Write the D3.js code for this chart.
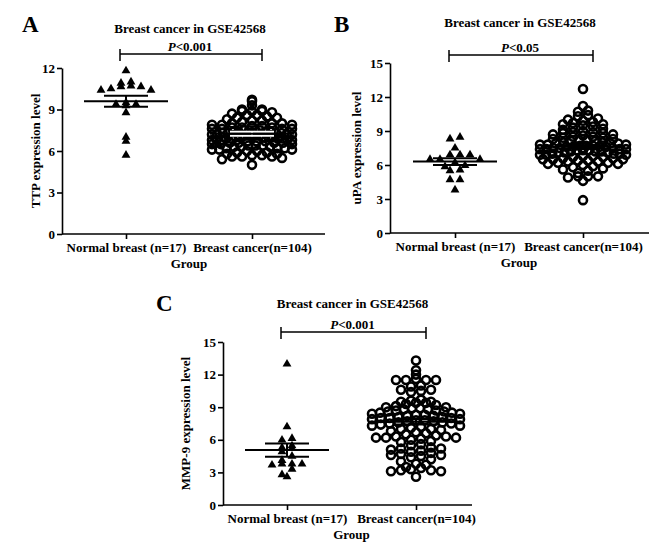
<!DOCTYPE html>
<html>
<head>
<meta charset="utf-8">
<script src="https://cdn.jsdelivr.net/npm/d3@7"></script>
<style>
body { margin: 0; background: #fff; }
svg text { font-family: "Times New Roman", "Liberation Serif", serif; font-weight: bold; font-size: 13px; fill: #000; }
</style>
</head>
<body>
<svg id="fig" width="669" height="547"></svg>
<script>
// categories
var groups = ["Normal breast (n=17)", "Breast cancer(n=104)"];

// panel A - TTP
var normalA = [11.8, 11.0, 10.9, 10.7, 10.65, 10.65, 10.5, 10.4, 10.4, 9.5, 9.38, 9.38, 9.28, 8.77, 7.0, 6.7, 5.7];
var cancerA = [9.7, 9.6, 9.3, 9.0, 9.0, 8.9, 8.9, 8.9, 8.8, 8.7, 8.6, 8.6, 8.5, 8.4, 8.4, 8.3, 8.2, 8.2, 8.1,
  8.0, 8.0, 8.0, 7.9, 7.9, 7.9, 7.8, 7.8, 7.7, 7.7, 7.7, 7.6, 7.6, 7.6, 7.6, 7.5, 7.5, 7.5, 7.5, 7.4, 7.4, 7.4, 7.4,
  7.3, 7.3, 7.3, 7.3, 7.2, 7.2, 7.2, 7.2, 7.1, 7.1, 7.1, 7.1, 7.0, 7.0, 7.0, 7.0, 7.0, 6.9, 6.9, 6.9, 6.9,
  6.8, 6.8, 6.8, 6.8, 6.8, 6.7, 6.7, 6.7, 6.6, 6.6, 6.6, 6.6, 6.5, 6.5, 6.5, 6.4, 6.4, 6.4, 6.3, 6.3, 6.3,
  6.2, 6.2, 6.2, 6.1, 6.1, 6.1, 6.0, 6.0, 5.9, 5.9, 5.8, 5.8, 5.7, 5.7, 5.6, 5.6, 5.6, 5.5, 5.4, 5.0];
var meanA = [9.6, 7.25];
var semA = [0.4, 0.15];

// panel B - uPA
var normalB = [8.45, 8.3, 7.5, 6.9, 6.9, 6.9, 6.5, 6.5, 6.5, 6.2, 5.95, 5.85, 5.56, 5.5, 4.7, 4.7, 3.8];
var cancerB = [12.7, 11.2, 10.8, 10.7, 10.4, 10.3, 10.1, 10.0, 9.9, 9.8, 9.7, 9.6, 9.6, 9.5, 9.4, 9.3, 9.2, 9.1, 9.0,
  8.9, 8.9, 8.8, 8.8, 8.7, 8.7, 8.6, 8.5, 8.5, 8.4, 8.4, 8.3, 8.3, 8.2, 8.2, 8.1, 8.1, 8.0, 8.0,
  7.9, 7.9, 7.9, 7.8, 7.8, 7.8, 7.7, 7.7, 7.7, 7.6, 7.6, 7.6, 7.6, 7.5, 7.5, 7.5, 7.4, 7.4, 7.4, 7.4,
  7.3, 7.3, 7.3, 7.2, 7.2, 7.2, 7.1, 7.1, 7.1, 7.0, 7.0, 7.0, 6.9, 6.9, 6.9, 6.8, 6.8, 6.7, 6.7,
  6.6, 6.6, 6.5, 6.5, 6.5, 6.4, 6.4, 6.3, 6.3, 6.2, 6.2, 6.1, 6.1, 6.0, 5.9, 5.8, 5.7, 5.6, 5.5,
  5.3, 5.0, 5.0, 5.0, 4.9, 4.6, 2.9];
var meanB = [6.3, 7.6];
var semB = [0.3, 0.15];

// panel C - MMP-9
var normalC = [12.97, 7.2, 6.13, 5.98, 5.45, 5.27, 5.2, 4.9, 4.5, 4.1, 3.77, 3.77, 3.77, 3.68, 3.3, 2.8, 2.6];
var cancerC = [13.3, 12.4, 12.0, 11.6, 11.5, 11.5, 11.5, 11.5, 11.0, 10.9, 10.6, 10.6, 10.5, 10.4,
  9.7, 9.6, 9.5, 9.5, 9.4, 9.4, 9.3, 9.2, 9.1, 9.0, 9.0, 8.9, 8.9, 8.8, 8.8, 8.7, 8.7,
  8.6, 8.6, 8.5, 8.5, 8.4, 8.4, 8.3, 8.3, 8.2, 8.2, 8.1, 8.1, 8.0, 8.0, 8.0, 7.9, 7.9, 7.8, 7.8,
  7.7, 7.7, 7.6, 7.6, 7.5, 7.5, 7.4, 7.3, 7.3, 7.2, 7.1, 7.0, 7.0, 6.9, 6.8, 6.7, 6.6, 6.5, 6.4,
  6.3, 6.3, 6.2, 6.2, 6.2, 6.1, 6.0, 5.9, 5.8, 5.6, 5.5, 5.3, 5.2, 5.2, 5.1, 5.0, 4.9, 4.8, 4.7,
  4.6, 4.6, 4.5, 4.4, 4.2, 4.0, 3.8, 3.7, 3.5, 3.4, 3.3, 3.2, 3.2, 3.1, 3.1, 2.6];
var meanC = [5.05, 7.65];
var semC = [0.6, 0.25];

var ticks12 = [0, 3, 6, 9, 12];
var ticks15 = [0, 3, 6, 9, 12, 15];

var svg = d3.select("#fig");

// Prism-like scatter: points binned by pixel row, spread sideways from the centre
function swarm(values, y, cx, binPx, step, maxHalf) {
  var pts = values.map(function(v) { return { v: v, py: y(v) }; });
  var bins = d3.group(pts, function(d) { return Math.floor(d.py / binPx); });
  var out = [];
  bins.forEach(function(items) {
    items.sort(function(a, b) { return b.v - a.v; });
    var n = items.length;
    var d = n > 1 ? Math.min(step, 2 * maxHalf / (n - 1)) : 0;
    var slots = d3.range(n).map(function(j) { return (j - (n - 1) / 2) * d; });
    slots.sort(function(a, b) { return Math.abs(a) - Math.abs(b) || b - a; });
    items.forEach(function(it, i) {
      out.push({ x: cx + slots[i], y: it.py });
    });
  });
  return out;
}

function drawPanel(p) {
  var g = svg.append("g");
  var y = d3.scaleLinear().domain([0, p.yMax]).range([p.yBot, p.yTop]);
  var x = d3.scalePoint().domain(groups).range(p.cats);

  // axes
  g.append("g")
    .attr("transform", "translate(" + p.x0 + ",0)")
    .call(d3.axisLeft(y).tickValues(p.ticks).tickSize(5).tickSizeOuter(0).tickPadding(2));
  var xa = g.append("g")
    .attr("transform", "translate(0," + p.yBot + ")")
    .call(d3.axisBottom(x).tickSize(5).tickPadding(4));
  xa.select(".domain").remove();
  g.append("line")
    .attr("x1", p.x0).attr("x2", p.xEnd)
    .attr("y1", p.yBot).attr("y2", p.yBot);
  g.selectAll(".tick line, .domain, line").attr("stroke", "#000").attr("stroke-width", 1.6);

  // normal group: triangles
  var tri = swarm(p.normal, y, x(groups[0]), 7, 10, 32);
  g.append("g").selectAll("path")
    .data(tri)
    .enter()
    .append("path")
    .attr("d", d3.symbol().type(d3.symbolTriangle).size(34))
    .attr("transform", function(d) { return "translate(" + d.x + "," + d.y + ")"; })
    .attr("fill", "#000");

  // cancer group: open circles
  var circ = swarm(p.cancer, y, x(groups[1]), p.bin, 10, p.half);
  g.append("g").selectAll("circle")
    .data(circ)
    .enter()
    .append("circle")
    .attr("cx", function(d) { return d.x; })
    .attr("cy", function(d) { return d.y; })
    .attr("r", 4)
    .attr("fill", "none")
    .attr("stroke", "#000")
    .attr("stroke-width", 2.6);

  // mean and SEM
  groups.forEach(function(gr, i) {
    var cx = x(gr);
    var col = p.semColor[i];
    g.append("line")
      .attr("x1", cx).attr("x2", cx)
      .attr("y1", y(p.mean[i] + p.sem[i])).attr("y2", y(p.mean[i] - p.sem[i]))
      .attr("stroke", col).attr("stroke-width", 2);
    [p.mean[i] + p.sem[i], p.mean[i] - p.sem[i]].forEach(function(v) {
      g.append("line")
        .attr("x1", cx - 22).attr("x2", cx + 22)
        .attr("y1", y(v)).attr("y2", y(v))
        .attr("stroke", col).attr("stroke-width", 2);
    });
    g.append("line")
      .attr("x1", cx - 42).attr("x2", cx + 42)
      .attr("y1", y(p.mean[i])).attr("y2", y(p.mean[i]))
      .attr("stroke", "#000").attr("stroke-width", 2);
  });

  var mid = (x(groups[0]) + x(groups[1])) / 2;

  // significance bracket
  var bx1 = x(groups[0]) - 6, bx2 = x(groups[1]) + 10;
  g.append("path")
    .attr("d", "M" + bx1 + "," + (p.by - 5) + "V" + (p.by + 7) + "M" + bx1 + "," + p.by + "H" + bx2 +
      "M" + bx2 + "," + (p.by - 5) + "V" + (p.by + 7))
    .attr("fill", "none").attr("stroke", "#000").attr("stroke-width", 1.5);
  var pt = g.append("text")
    .attr("x", mid + 1).attr("y", p.by - 3)
    .attr("text-anchor", "middle");
  pt.append("tspan").style("font-style", "italic").text("P");
  pt.append("tspan").text(p.pText);

  // titles and labels
  g.append("text")
    .attr("x", mid + 1).attr("y", p.titleY)
    .attr("text-anchor", "middle")
    .text("Breast cancer in GSE42568");
  g.append("text")
    .attr("x", mid).attr("y", p.yBot + 34)
    .attr("text-anchor", "middle")
    .text("Group");
  g.append("text")
    .attr("transform", "translate(" + p.ylabX + "," + ((p.yTop + p.yBot) / 2) + ") rotate(-90)")
    .attr("text-anchor", "middle")
    .text(p.ylab);
  g.append("text")
    .attr("x", p.letter[0]).attr("y", p.letter[1])
    .style("font-size", "23px")
    .text(p.letterText);
}

drawPanel({
  x0: 62, xEnd: 325, yTop: 68, yBot: 234, yMax: 12, ticks: ticks12, cats: [126, 252],
  normal: normalA, cancer: cancerA, mean: meanA, sem: semA, semColor: ["#000", "#fff"], bin: 5, half: 40,
  by: 54, pText: "<0.001", titleY: 33, ylabX: 40, ylab: "TTP expression level",
  letter: [22, 32], letterText: "A"
});

drawPanel({
  x0: 390, xEnd: 649, yTop: 63, yBot: 233, yMax: 15, ticks: ticks15, cats: [455, 583],
  normal: normalB, cancer: cancerB, mean: meanB, sem: semB, semColor: ["#000", "#000"], bin: 5, half: 43,
  by: 55, pText: "<0.05", titleY: 27, ylabX: 361, ylab: "uPA expression level",
  letter: [334, 32], letterText: "B"
});

drawPanel({
  x0: 223, xEnd: 472, yTop: 342, yBot: 505, yMax: 15, ticks: ticks15, cats: [287, 416],
  normal: normalC, cancer: cancerC, mean: meanC, sem: semC, semColor: ["#000", "#000"], bin: 6, half: 44,
  by: 332, pText: "<0.001", titleY: 308, ylabX: 190, ylab: "MMP-9 expression level",
  letter: [156, 311], letterText: "C"
});
</script>
</body>
</html>
